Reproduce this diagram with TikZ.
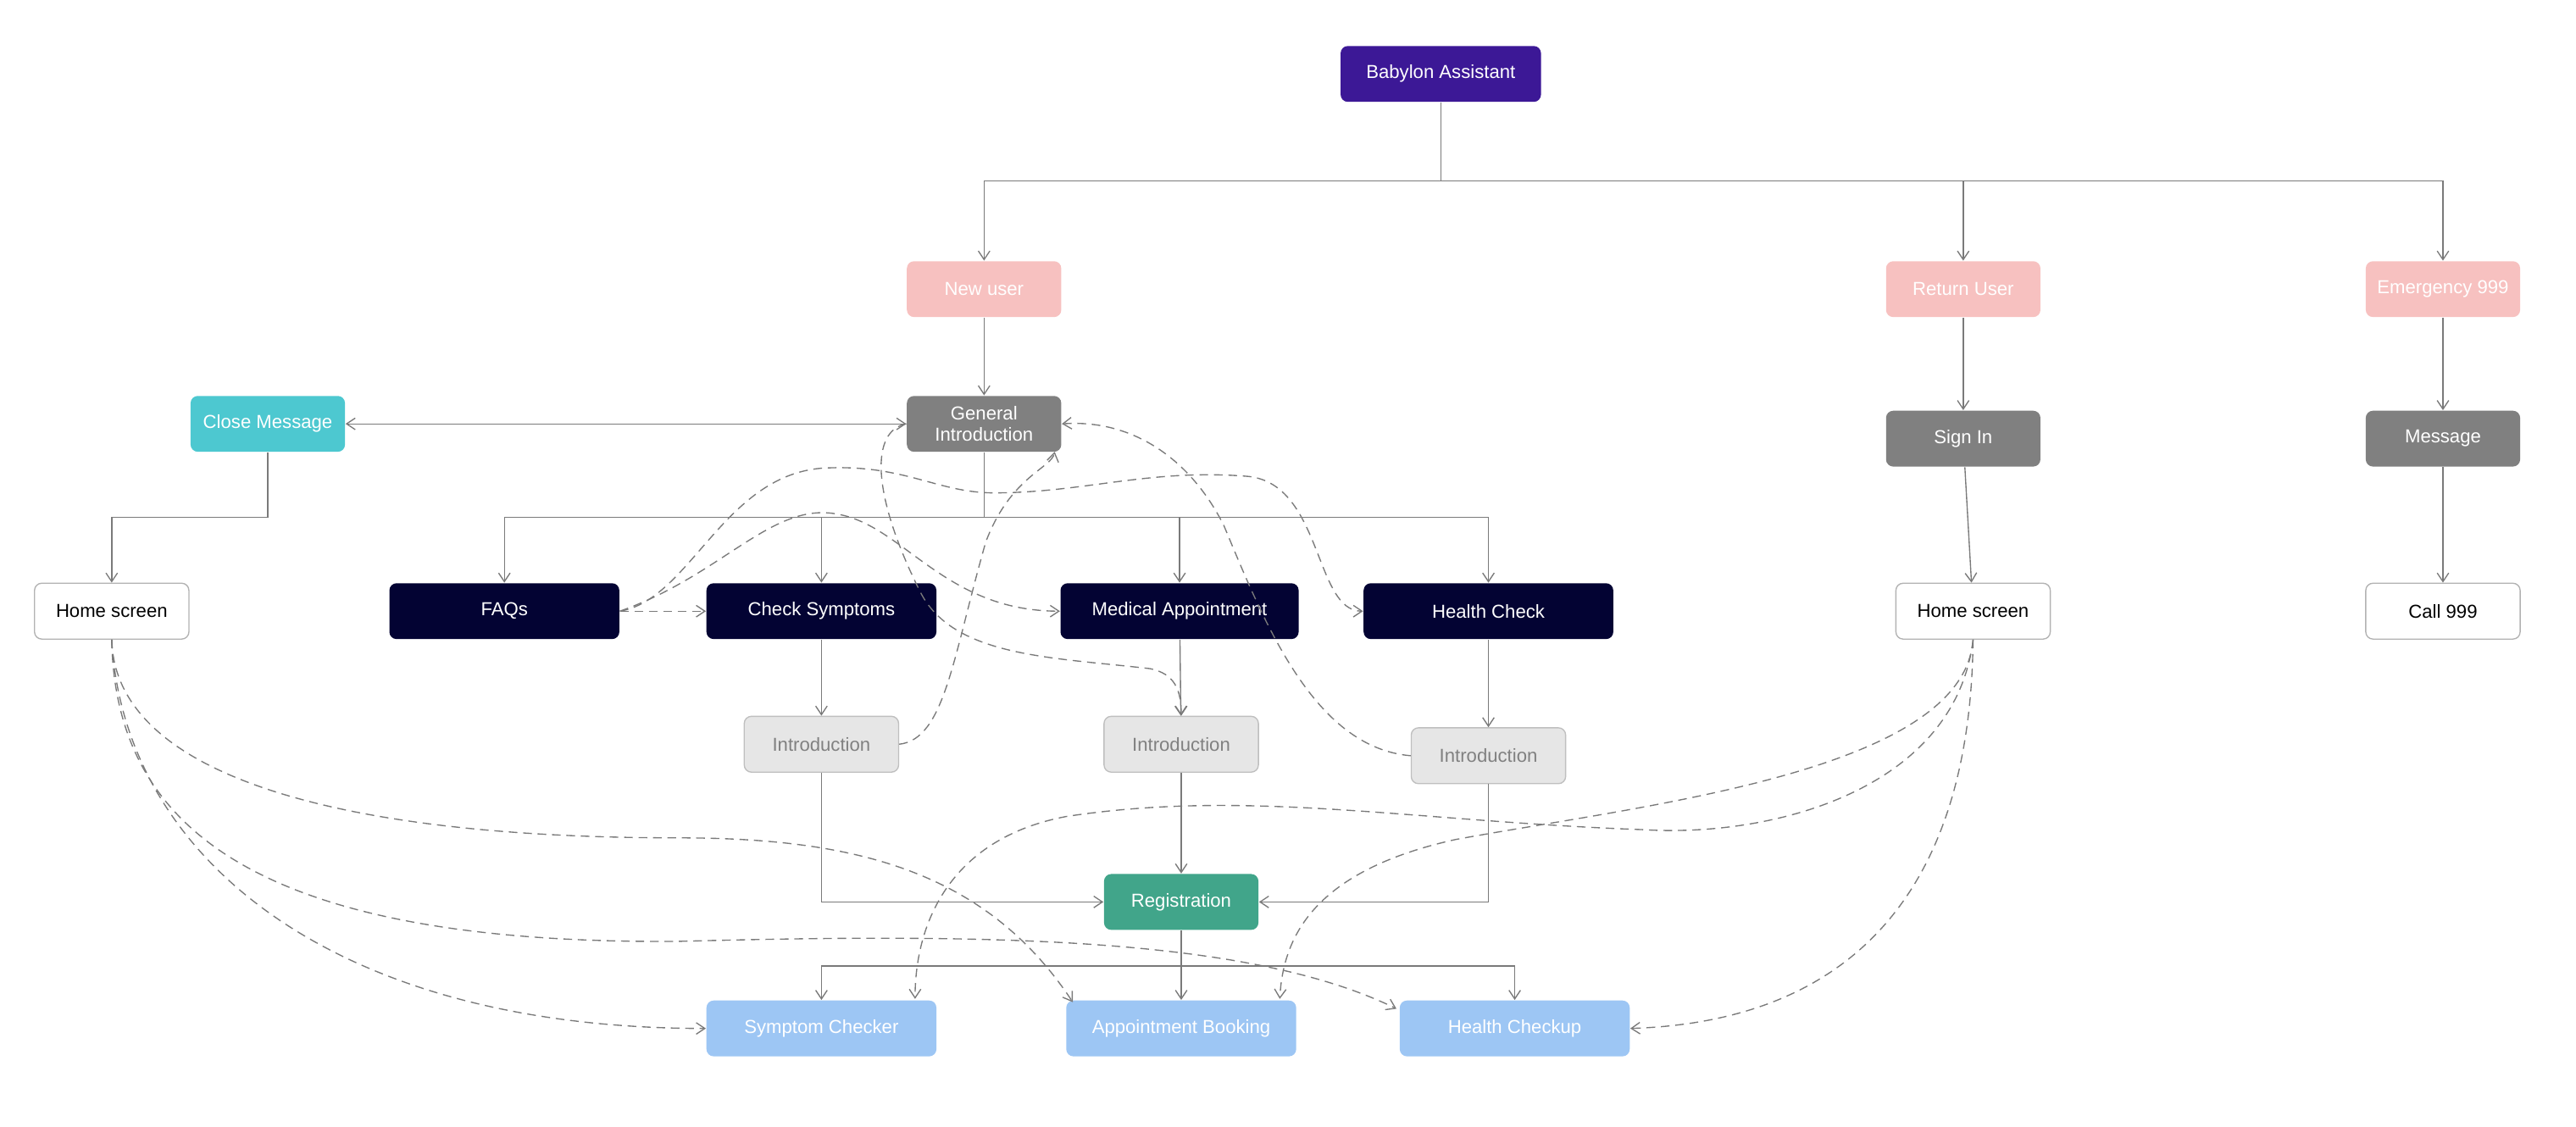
\documentclass[tikz,border=0pt]{standalone}
\usepackage{fontspec}
\setmainfont{Liberation Sans}
\usetikzlibrary{arrows.meta}
\definecolor{cPurple}{HTML}{3C1896}
\definecolor{cPink}{HTML}{F7C1C0}
\definecolor{cGray}{HTML}{808080}
\definecolor{cTeal}{HTML}{4DC8D0}
\definecolor{cNavy}{HTML}{030333}
\definecolor{cLight}{HTML}{E6E6E6}
\definecolor{cGreen}{HTML}{41A58A}
\definecolor{cBlue}{HTML}{9DC6F4}
\definecolor{cLine}{HTML}{7A7A7A}
\begin{document}
\begin{tikzpicture}[x=0.02cm, y=-0.02cm]
    % Styles
    \tikzstyle{box} = [rectangle, rounded corners=2.5pt, minimum width=1.88cm, minimum height=0.68cm, align=center, inner sep=1pt, text=white, font=\fontsize{6.5}{7.5}\selectfont]
    \tikzstyle{plain} = [box, fill=white, draw=gray!60, text=black]
    \tikzstyle{intro} = [box, fill=cLight, draw=gray!50, text=gray]
    \tikzstyle{link} = [-{Straight Barb[length=3pt,width=4pt]}, draw=cLine, thin]
    \tikzstyle{jump} = [link, dash pattern=on 3pt off 2pt]
    \useasboundingbox (0,0) rectangle (1568,686);

    % Nodes
    \node[box, fill=cPurple, minimum width=2.44cm] (babylon) at (877,45) {Babylon Assistant};
    \node[box, fill=cPink] (newuser) at (599,176) {New user};
    \node[box, fill=cPink] (returnuser) at (1195,176) {Return User};
    \node[box, fill=cPink] (emergency) at (1487,176) {Emergency 999};
    \node[box, fill=cGray] (general) at (599,258) {General\\Introduction};
    \node[box, fill=cTeal] (close) at (163,258) {Close Message};
    \node[box, fill=cGray] (signin) at (1195,267) {Sign In};
    \node[box, fill=cGray] (message) at (1487,267) {Message};
    \node[plain] (home) at (68,372) {Home screen};
    \node[box, fill=cNavy, minimum width=2.8cm] (faqs) at (307,372) {FAQs};
    \node[box, fill=cNavy, minimum width=2.8cm] (check) at (500,372) {Check Symptoms};
    \node[box, fill=cNavy, minimum width=2.9cm] (medical) at (718,372) {Medical Appointment};
    \node[box, fill=cNavy, minimum width=3.04cm] (health) at (906,372) {Health Check};
    \node[plain] (home2) at (1201,372) {Home screen};
    \node[plain] (call) at (1487,372) {Call 999};
    \node[intro] (intro1) at (500,453) {Introduction};
    \node[intro] (intro2) at (719,453) {Introduction};
    \node[intro] (intro3) at (906,460) {Introduction};
    \node[box, fill=cGreen] (reg) at (719,549) {Registration};
    \node[box, fill=cBlue, minimum width=2.8cm] (symptom) at (500,626) {Symptom Checker};
    \node[box, fill=cBlue, minimum width=2.8cm] (booking) at (719,626) {Appointment Booking};
    \node[box, fill=cBlue, minimum width=2.8cm] (checkup) at (922,626) {Health Checkup};

    % Bus points
    \coordinate (topbus) at (877,110);
    \coordinate (gbus) at (599,315);
    \coordinate (cbus) at (163,315);
    \coordinate (rbus) at (719,588);

    % Tree
    \draw[cLine] (babylon) -- (topbus);
    \foreach \n in {newuser, returnuser, emergency} \draw[link] (topbus) -| (\n);
    \draw[link] (newuser) -- (general);
    \draw[link, {Straight Barb[length=3pt,width=4pt]}-{Straight Barb[length=3pt,width=4pt]}] (close) -- (general);
    \draw[cLine] (close) -- (cbus);
    \draw[link] (cbus) -| (home);
    \draw[cLine] (general) -- (gbus);
    \foreach \n in {faqs, check, medical, health} \draw[link] (gbus) -| (\n);
    \draw[link] (returnuser) -- (signin);
    \draw[link] (signin) -- (home2);
    \draw[link] (emergency) -- (message);
    \draw[link] (message) -- (call);
    \draw[link] (check) -- (intro1);
    \draw[link] (medical) -- (intro2);
    \draw[link] (health) -- (intro3);
    \draw[link] (intro1) |- (reg);
    \draw[link] (intro2) -- (reg);
    \draw[link] (intro3) |- (reg);
    \draw[cLine] (reg) -- (rbus);
    \foreach \n in {symptom, booking, checkup} \draw[link] (rbus) -| (\n);

    % Jumps
    \draw[jump] (faqs) -- (check);
    \draw[jump] (faqs.east) .. controls (420,365) and (440,290) .. (500,285) .. controls (550,282) and (570,300) .. (605,300) .. controls (660,300) and (700,285) .. (760,290) .. controls (805,295) and (800,372) .. (health.west);
    \draw[jump] (faqs.east) .. controls (440,350) and (470,305) .. (510,313) .. controls (550,320) and (575,372) .. (medical.west);
    \draw[jump] (intro1.east) .. controls (575,450) and (580,400) .. (600,330) .. controls (615,290) and (640,285) .. (642,275);
    \draw[jump] (general.west) .. controls (530,262) and (530,300) .. (560,360) .. controls (580,400) and (640,400) .. (700,407) .. controls (715,410) and (719,420) .. (intro2.north);
    \draw[jump] (intro3.west) .. controls (800,455) and (770,380) .. (745,320) .. controls (725,280) and (690,255) .. (general.east);
    \draw[jump] (home.south) .. controls (70,470) and (200,510) .. (413,510) .. controls (520,510) and (600,530) .. (653,610);
    \draw[jump] (home.south) .. controls (70,500) and (150,575) .. (413,573) .. controls (600,568) and (760,570) .. (850,614);
    \draw[jump] (home.south) .. controls (75,520) and (200,626) .. (symptom.west);
    \draw[jump] (home2.south) .. controls (1195,470) and (1000,490) .. (886,511) .. controls (800,530) and (781,570) .. (779,608);
    \draw[jump] (home2.south) .. controls (1190,480) and (1080,510) .. (1000,505) .. controls (860,500) and (760,480) .. (649,497) .. controls (580,510) and (557,560) .. (557,608);
    \draw[jump] (home2.south) .. controls (1200,470) and (1180,620) .. (checkup.east);
\end{tikzpicture}
\end{document}
